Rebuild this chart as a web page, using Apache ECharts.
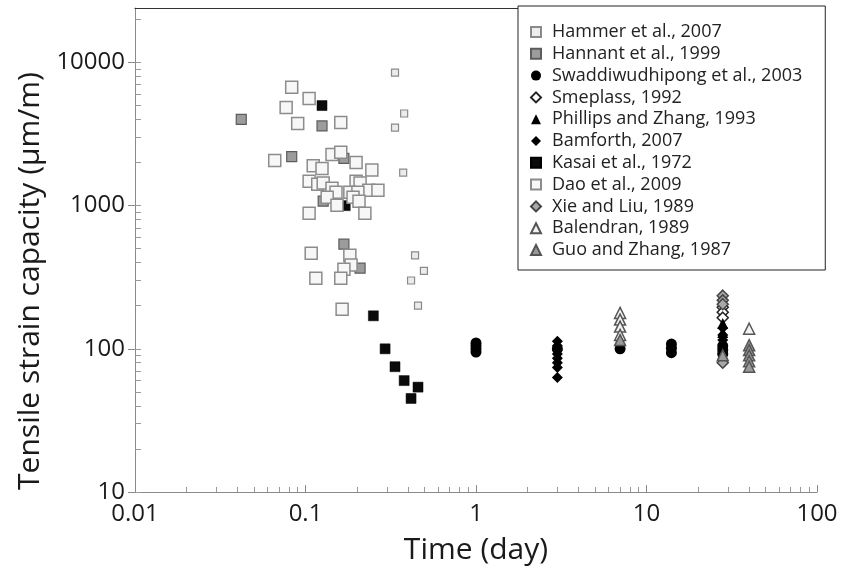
<!DOCTYPE html>
<html>
<head>
<meta charset="utf-8">
<script src="https://cdn.jsdelivr.net/npm/echarts@6/dist/echarts.min.js"></script>
<style>
  html, body { margin: 0; padding: 0; background: #ffffff; }
  #chart { width: 844px; height: 567px; }
</style>
</head>
<body>
<div id="chart"></div>
<script>
// Tensile strain capacity of concrete versus age, collected from the literature.
// Each point is [time (day), tensile strain capacity (µm/m)].

const xTickValues = [0.01, 0.1, 1, 10, 100];
const yTickValues = [10, 100, 1000, 10000];
const xMinorValues = [0.02, 0.03, 0.04, 0.05, 0.06, 0.07, 0.08, 0.09,
                      0.2, 0.3, 0.4, 0.5, 0.6, 0.7, 0.8, 0.9,
                      2, 3, 4, 5, 6, 7, 8, 9,
                      20, 30, 40, 50, 60, 70, 80, 90];
const yMinorValues = [20, 30, 40, 50, 60, 70, 80, 90,
                      200, 300, 400, 500, 600, 700, 800, 900,
                      2000, 3000, 4000, 5000, 6000, 7000, 8000, 9000,
                      20000];

const hammer2007 = [[0.335, 8500], [0.379, 4400], [0.335, 3500], [0.374, 1700],
                    [0.439, 450], [0.495, 350], [0.416, 300], [0.457, 200]];

const hannant1999 = [[0.042, 4000], [0.125, 3600], [0.083, 2200], [0.168, 2140],
                     [0.127, 1075], [0.168, 538], [0.209, 366]];

const swaddiwudhipong2003 = [[1, 110], [1, 105], [1, 100], [1, 95],
                             [3, 100], [7, 100],
                             [14, 108], [14, 101], [14, 94],
                             [28, 105], [28, 98], [28, 92]];

const smeplass1992 = [[28, 195], [28, 180], [28, 165]];

const phillipsZhang1993 = [[28, 150], [28, 130], [28, 110], [28, 100]];

const bamforth2007 = [[3, 113], [3, 105], [3, 98], [3, 92], [3, 86], [3, 80], [3, 74], [3, 63],
                      [28, 140], [28, 125], [28, 115], [28, 85]];

const kasai1972 = [[0.125, 5000], [0.171, 1000], [0.25, 170], [0.293, 100],
                   [0.335, 75], [0.379, 60], [0.457, 54], [0.416, 45]];

const dao2009 = [[0.083, 6700], [0.105, 5600], [0.077, 4850], [0.090, 3750], [0.161, 3800],
                 [0.066, 2070], [0.111, 1900], [0.125, 1820], [0.143, 2280], [0.161, 2360],
                 [0.198, 2000], [0.245, 1770], [0.105, 1480], [0.118, 1410], [0.127, 1440],
                 [0.143, 1320], [0.151, 1240], [0.198, 1480], [0.209, 1440], [0.235, 1280],
                 [0.266, 1280], [0.182, 1240], [0.203, 1240], [0.134, 1145], [0.153, 1005],
                 [0.190, 1145], [0.206, 1075], [0.105, 885], [0.223, 885], [0.108, 465],
                 [0.182, 450], [0.185, 385], [0.168, 360], [0.161, 311], [0.115, 311],
                 [0.164, 189]];

const xieLiu1989 = [[28, 235], [28, 218], [28, 205], [28, 80]];

const balendran1989 = [[7, 178], [7, 160], [7, 143], [7, 125], [40, 138]];

const guoZhang1987 = [[7, 115], [28, 90], [40, 106], [40, 98], [40, 90], [40, 82], [40, 75]];

const FONT = '"Open Sans", "Noto Sans", sans-serif';

function scatter(name, data, symbol, size, fill, stroke, lineWidth) {
  return {
    name: name,
    type: 'scatter',
    data: data,
    symbol: symbol,
    symbolSize: size,
    xAxisIndex: 0,
    yAxisIndex: 0,
    itemStyle: { color: fill, borderColor: stroke, borderWidth: lineWidth, opacity: 1 },
    emphasis: { disabled: true },
    animation: false
  };
}

const series = [
  scatter('Hammer et al., 2007', hammer2007, 'rect', 7, '#ececec', '#8a8a8a', 1.2),
  scatter('Hannant et al., 1999', hannant1999, 'rect', 10, '#9c9c9c', '#5c5c5c', 1.2),
  scatter('Swaddiwudhipong et al., 2003', swaddiwudhipong2003, 'circle', 11, '#000000', '#000000', 0),
  scatter('Smeplass, 1992', smeplass1992, 'diamond', 11, '#ffffff', '#222222', 1.5),
  scatter('Phillips and Zhang, 1993', phillipsZhang1993, 'triangle', 11, '#000000', '#000000', 0),
  scatter('Bamforth, 2007', bamforth2007, 'diamond', 11, '#000000', '#000000', 0),
  scatter('Kasai et al., 1972', kasai1972, 'rect', 10, '#0a0a0a', '#000000', 0.5),
  scatter('Dao et al., 2009', dao2009, 'rect', 12, '#f7f7f7', '#8c8c8c', 1.5),
  scatter('Xie and Liu, 1989', xieLiu1989, 'diamond', 11, '#a8a8a8', '#444444', 1.5),
  scatter('Balendran, 1989', balendran1989, 'triangle', 11, '#f2f2f2', '#555555', 1.5),
  scatter('Guo and Zhang, 1987', guoZhang1987, 'triangle', 11, '#9a9a9a', '#555555', 1.5)
];

const numFmt = v => String(+(+v).toPrecision(6));

const chart = echarts.init(document.getElementById('chart'), null, { renderer: 'canvas' });
chart.setOption({
  backgroundColor: '#ffffff',
  animation: false,
  grid: { left: 135, right: 27, top: 8, bottom: 75, containLabel: false, outerBoundsMode: 'none' },
  legend: {
    orient: 'vertical',
    left: 518,
    top: 6,
    padding: [16, 23, 10, 12],
    backgroundColor: '#ffffff',
    borderColor: '#222222',
    borderWidth: 1,
    itemWidth: 10,
    itemHeight: 10,
    itemGap: 1.8,
    selectedMode: false,
    textStyle: { fontFamily: FONT, fontSize: 18, color: '#222222', lineHeight: 20, padding: [0, 0, 0, 6] },
    data: series.map(s => s.name)
  },
  xAxis: [
    {
      type: 'log', logBase: 10, min: 0.01, max: 100,
      position: 'bottom',
      axisLine: { show: true, lineStyle: { color: '#8a8a8a', width: 1 } },
      axisTick: { show: true, inside: true, length: 7, lineStyle: { color: '#8a8a8a' } },
      axisLabel: { show: true, customValues: xTickValues, formatter: numFmt, margin: 10,
                   fontFamily: FONT, fontSize: 24, color: '#1a1a1a' },
      splitLine: { show: false },
      name: 'Time (day)', nameLocation: 'middle', nameGap: 43,
      nameTextStyle: { fontFamily: FONT, fontSize: 30, color: '#1a1a1a' }
    },
    {
      type: 'log', logBase: 10, min: 0.01, max: 100,
      position: 'bottom',
      axisLine: { show: false },
      axisTick: { show: true, inside: true, length: 5, customValues: xMinorValues,
                  lineStyle: { color: '#9a9a9a' } },
      axisLabel: { show: false },
      splitLine: { show: false }
    },
    {
      type: 'log', logBase: 10, min: 0.01, max: 100,
      position: 'top',
      axisLine: { show: true, lineStyle: { color: '#333333', width: 1.2 } },
      axisTick: { show: false },
      axisLabel: { show: false },
      splitLine: { show: false }
    }
  ],
  yAxis: [
    {
      type: 'log', logBase: 10, min: 10, max: 24000,
      position: 'left',
      axisLine: { show: true, lineStyle: { color: '#8a8a8a', width: 1 } },
      axisTick: { show: true, inside: false, length: 7, customValues: yTickValues,
                  lineStyle: { color: '#8a8a8a' } },
      axisLabel: { show: true, customValues: yTickValues, formatter: numFmt, margin: 10,
                   fontFamily: FONT, fontSize: 24, color: '#1a1a1a' },
      splitLine: { show: false }
    },
    {
      type: 'log', logBase: 10, min: 10, max: 24000,
      position: 'left',
      axisLine: { show: false },
      axisTick: { show: true, inside: true, length: 6, customValues: yMinorValues.concat(yTickValues),
                  lineStyle: { color: '#9a9a9a' } },
      axisLabel: { show: false },
      splitLine: { show: false }
    }
  ],
  graphic: [
    {
      type: 'text',
      x: 30, y: 281,
      rotation: Math.PI / 2,
      style: {
        text: 'Tensile strain capacity (µm/m)',
        fontFamily: FONT, fontSize: 30, fill: '#1a1a1a',
        align: 'center', verticalAlign: 'middle'
      }
    }
  ],
  series: series
});
</script>
</body>
</html>
